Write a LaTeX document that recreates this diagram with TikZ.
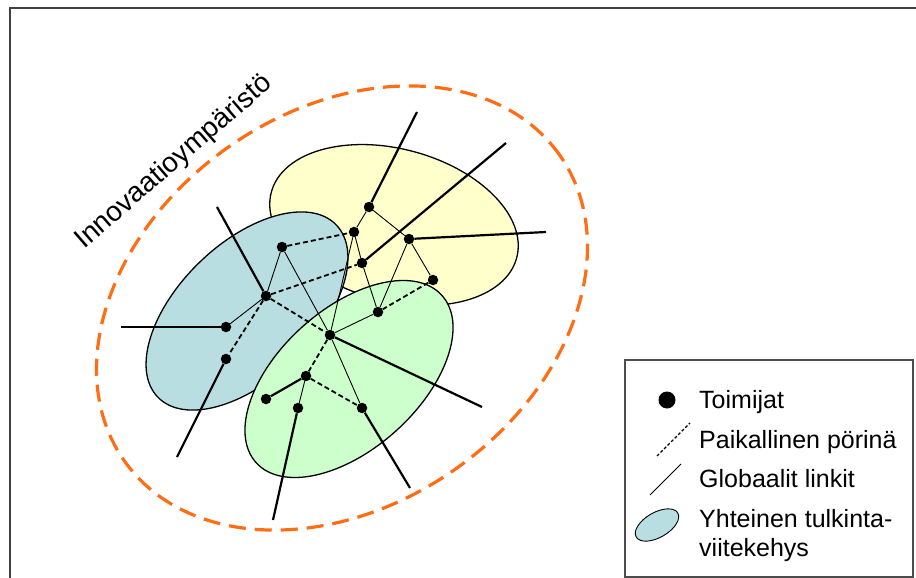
\documentclass[tikz,border=0pt]{standalone}
\usepackage{fontspec}
\setmainfont{Liberation Sans}
\definecolor{envorange}{RGB}{255,110,20}
\definecolor{fillblue}{RGB}{185,222,226}
\definecolor{fillyellow}{RGB}{255,255,204}
\definecolor{fillgreen}{RGB}{204,255,204}
\begin{document}
\begin{tikzpicture}[x=1pt,y=1pt,
  actor/.style={circle,fill=black,inner sep=0pt,minimum size=10.5pt},
  link/.style={line width=0.9pt},
  buzz/.style={line width=1.8pt,dash pattern=on 5pt off 3pt},
  global/.style={line width=2.2pt},
  context/.style={draw=black,line width=1.3pt},
  envline/.style={draw=envorange,line width=3.2pt,dash pattern=on 17pt off 9pt},
  legendtext/.style={anchor=base west,inner sep=0pt,font=\fontsize{25}{30}\selectfont},
]
\useasboundingbox (0,0) rectangle (916,-578);
\fill[white] (0,0) rectangle (916,-578);
% outer frame
\draw[line width=1.4pt,black!75] (10,-8) rectangle (940,-600);

% innovation environment
\draw[envline, rotate around={35:(342,-308)}] (342,-308) ellipse [x radius=266, y radius=197];
\node[anchor=base west,inner sep=0pt,rotate=41,font=\fontsize{28}{33}\selectfont] (envlabel) at (84,-250) {Innovaatioympäristö};

% shared frames of interpretation
\filldraw[context,fill=fillyellow, rotate around={-15:(394,-225)}] (394,-225) ellipse [x radius=127, y radius=76];
\filldraw[context,fill=fillblue, rotate around={44:(247,-311)}] (247,-311) ellipse [x radius=124, y radius=68];
\filldraw[context,fill=fillgreen, rotate around={42:(349,-379)}] (349,-379) ellipse [x radius=125, y radius=70];

% actors
\node[actor] (b1) at (282,-247) {};
\node[actor] (b2) at (266,-296) {};
\node[actor] (b3) at (226,-327) {};
\node[actor] (b4) at (226,-359) {};
\node[actor] (y1) at (369,-207) {};
\node[actor] (y2) at (354,-232) {};
\node[actor] (y3) at (409,-239) {};
\node[actor] (y4) at (362,-263) {};
\node[actor] (y5) at (433,-280) {};
\node[actor] (y6) at (378,-312) {};
\node[actor] (g1) at (330,-335) {};
\node[actor] (g2) at (306,-376) {};
\node[actor] (g3) at (266,-399) {};
\node[actor] (g4) at (298,-408) {};
\node[actor] (g5) at (362,-408) {};

% loose ends of the global links
\coordinate (eb2) at (217,-207);
\coordinate (eb3) at (121,-327);
\coordinate (eb4) at (177,-457);
\coordinate (ey1) at (417,-112);
\coordinate (ey4) at (506,-143);
\coordinate (ey3) at (546,-232);
\coordinate (eg1) at (482,-407);
\coordinate (eg4) at (273,-520);
\coordinate (eg5) at (410,-488);

% thin links
\draw[link] (b1) -- (b2);
\draw[link] (b2) -- (b3);
\draw[link] (b1) -- (g1);
\draw[link] (y1) -- (y2);
\draw[link] (y1) -- (y3);
\draw[link] (y2) -- (y4);
\draw[link] (y4) -- (y6);
\draw[link] (y2) -- (g1);
\draw[link] (y3) -- (y6);
\draw[link] (y3) -- (y5);
\draw[link] (y6) -- (g1);
\draw[link] (g1) -- (g5);
\draw[link] (g2) -- (g4);

% local buzz
\draw[buzz] (b1) -- (y2);
\draw[buzz] (b2) -- (y4);
\draw[buzz] (b2) -- (g1);
\draw[buzz] (b2) -- (b4);
\draw[buzz] (y5) -- (y6);
\draw[buzz] (g1) -- (g2);
\draw[buzz] (g2) -- (g5);

% global links
\draw[global] (g2) -- (g3);
\draw[global] (b2) -- (eb2);
\draw[global] (b3) -- (eb3);
\draw[global] (b4) -- (eb4);
\draw[global] (y1) -- (ey1);
\draw[global] (y4) -- (ey4);
\draw[global] (y3) -- (ey3);
\draw[global] (g1) -- (eg1);
\draw[global] (g4) -- (eg4);
\draw[global] (g5) -- (eg5);

% legend
\draw[line width=1.2pt,black!70] (625,-360) rectangle (913,-577);
\node[circle,fill=black,inner sep=0pt,minimum size=17pt] (keyactor) at (667,-400) {};
\coordinate (keybuzzA) at (657,-456);
\coordinate (keybuzzB) at (690,-423);
\draw[line width=1.3pt,dash pattern=on 3pt off 2pt] (keybuzzA) -- (keybuzzB);
\coordinate (keylinkA) at (650,-495);
\coordinate (keylinkB) at (681,-464);
\draw[line width=0.9pt] (keylinkA) -- (keylinkB);
\filldraw[draw=black,line width=0.9pt,fill=fillblue, rotate around={30:(657,-525)}] (657,-525) ellipse [x radius=24, y radius=12.5];
\node[legendtext] (t1) at (699,-408) {Toimijat};
\node[legendtext] (t2) at (699,-448) {Paikallinen pörinä};
\node[legendtext] (t3) at (699,-487) {Globaalit linkit};
\node[legendtext] (t4) at (699,-527) {Yhteinen tulkinta-};
\node[legendtext] (t5) at (699,-556) {viitekehys};
\end{tikzpicture}
\end{document}
